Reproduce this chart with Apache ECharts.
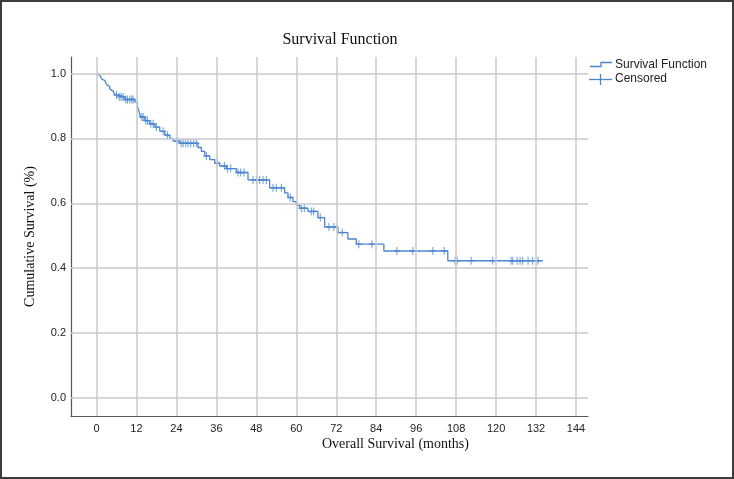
<!DOCTYPE html>
<html>
<head>
<meta charset="utf-8">
<script src="https://cdn.jsdelivr.net/npm/echarts@6/dist/echarts.min.js"></script>
<style>
  html, body { margin: 0; padding: 0; background: #fff; }
  .con { position: relative; width: 734px; height: 479px; }
  #chart { width: 734px; height: 479px; }
  .frame {
    position: absolute; left: 0; top: 0; width: 734px; height: 479px;
    box-sizing: border-box; border: 2px solid #3c3c3c; pointer-events: none;
  }
</style>
</head>
<body>
<div class="con">
  <div id="chart"></div>
  <div class="frame"></div>
</div>
<script>
// Kaplan-Meier steps (months, cumulative survival)
var eventTimes = [0, 0.5, 1, 1.5, 2, 2.5, 3, 3.5, 4, 4.5, 5, 5.5, 6.5, 8.5, 11.5,
  12.3, 12.8, 13.2, 14.5, 16, 17.5, 19, 20.5, 22, 23, 25, 30.5, 31.5, 32.5, 34,
  35.5, 37, 39, 42, 45.5, 52, 56.5, 57.5, 59, 60, 61, 63.5, 66.5, 68.5, 72.5,
  75.5, 78, 86.3, 105.5, 134];
var survival = [1.0, 0.995, 0.99, 0.984, 0.978, 0.972, 0.966, 0.96, 0.952, 0.946,
  0.94, 0.934, 0.928, 0.92, 0.912, 0.898, 0.882, 0.866, 0.855, 0.845, 0.835,
  0.822, 0.81, 0.8, 0.792, 0.785, 0.772, 0.76, 0.746, 0.735, 0.724, 0.715, 0.707,
  0.695, 0.672, 0.648, 0.632, 0.618, 0.605, 0.594, 0.585, 0.575, 0.556, 0.527,
  0.51, 0.49, 0.474, 0.453, 0.423, 0.423];
// censored cases (months)
var censorTimes = [6, 6.8, 7.4, 8, 8.8, 9.3, 10, 10.6, 11, 13.6, 14, 14.8, 15.3,
  16.3, 17, 18, 20, 21.3, 24.2, 25.4, 26, 26.8, 27.5, 28.3, 29.2, 30, 33, 36.3,
  38.4, 39.3, 40.3, 42.5, 43.3, 44.3, 47, 48, 49, 50, 51, 53, 54, 55.5, 58.2,
  61.5, 62.4, 64.5, 65.2, 67.2, 69.8, 71.3, 73.8, 78.8, 82.7, 90.2, 95, 101,
  104.4, 107.7, 108.3, 112.5, 119, 124.5, 125, 126.3, 127.2, 128, 129.6, 131, 132.6];
var xTicks = [0, 12, 24, 36, 48, 60, 72, 84, 96, 108, 120, 132, 144];
var yTicks = [0, 0.2, 0.4, 0.6, 0.8, 1.0];

var blue = "#4a86cf";
var serif = "'Liberation Serif', 'Times New Roman', serif";
var sans = "'Liberation Sans', Arial, sans-serif";

function survAt(t) {
  var s = survival[0];
  for (var i = 0; i < eventTimes.length; i++) {
    if (eventTimes[i] <= t) s = survival[i];
  }
  return s;
}

var lineData = eventTimes.map(function (t, i) { return [t, survival[i]]; });
var censorData = censorTimes.map(function (t) { return [t, survAt(t)]; });

var gridLines = xTicks.map(function (v) { return { xAxis: v }; })
  .concat(yTicks.map(function (v) { return { yAxis: v }; }));

var myEcharts = echarts.init(document.getElementById("chart"));
myEcharts.setOption({
  animation: false,
  title: {
    text: "Survival Function",
    left: 335,
    top: 27,
    textAlign: "center",
    textStyle: { fontFamily: serif, fontSize: 16, fontWeight: "normal", color: "#111" }
  },
  grid: { left: 71, top: 57, right: 146, bottom: 63 },
  xAxis: {
    type: "value",
    min: -7.66,
    max: 147.6,
    splitLine: { show: false },
    axisTick: { show: false },
    axisLine: { onZero: false, lineStyle: { color: "#555", width: 1.2 } },
    axisLabel: {
      customValues: xTicks,
      margin: 7,
      fontFamily: sans,
      fontSize: 11,
      color: "#222"
    }
  },
  yAxis: {
    type: "value",
    min: -0.0555,
    max: 1.051,
    name: "Cumulative Survival (%)",
    nameLocation: "middle",
    nameGap: 34,
    nameTextStyle: { fontFamily: serif, fontSize: 14, color: "#111" },
    splitLine: { show: false },
    axisTick: { show: false },
    axisLine: { show: true, onZero: false, lineStyle: { color: "#555", width: 1.2 } },
    axisLabel: {
      customValues: yTicks,
      margin: 5,
      fontFamily: sans,
      fontSize: 11,
      color: "#222",
      formatter: function (v) { return v.toFixed(1); }
    }
  },
  graphic: [
    {
      type: "text",
      left: 322,
      top: 437,
      style: {
        text: "Overall Survival (months)",
        font: "14px " + serif,
        fill: "#111",
        align: "center"
      }
    },
    {
      type: "polyline",
      shape: { points: [[590, 66.5], [601, 66.5], [601, 62.5], [612, 62.5]] },
      style: { stroke: blue, lineWidth: 1.3, fill: null }
    },
    {
      type: "text",
      left: 615,
      top: 59,
      style: { text: "Survival Function", font: "12px " + sans, fill: "#222" }
    },
    {
      type: "line",
      shape: { x1: 589, y1: 79.5, x2: 612, y2: 79.5 },
      style: { stroke: blue, lineWidth: 1.3 }
    },
    {
      type: "line",
      shape: { x1: 600.5, y1: 74, x2: 600.5, y2: 85 },
      style: { stroke: blue, lineWidth: 1.3 }
    },
    {
      type: "text",
      left: 615,
      top: 73,
      style: { text: "Censored", font: "12px " + sans, fill: "#222" }
    }
  ],
  series: [
    {
      name: "grid",
      type: "line",
      data: [],
      z: 1,
      silent: true,
      markLine: {
        silent: true,
        symbol: "none",
        label: { show: false },
        lineStyle: { color: "#c8c8c8", type: "solid", width: 1.5 },
        data: gridLines
      }
    },
    {
      name: "Survival Function",
      type: "line",
      step: "end",
      data: lineData,
      z: 3,
      showSymbol: false,
      lineStyle: { color: blue, width: 1.3 }
    },
    {
      name: "Censored",
      type: "scatter",
      data: censorData,
      z: 4,
      symbol: "path://M5,0L5,10M0,5L10,5",
      symbolSize: [6, 8],
      itemStyle: { color: "transparent", borderColor: blue, borderWidth: 1.2 }
    }
  ]
});
</script>
</body>
</html>
